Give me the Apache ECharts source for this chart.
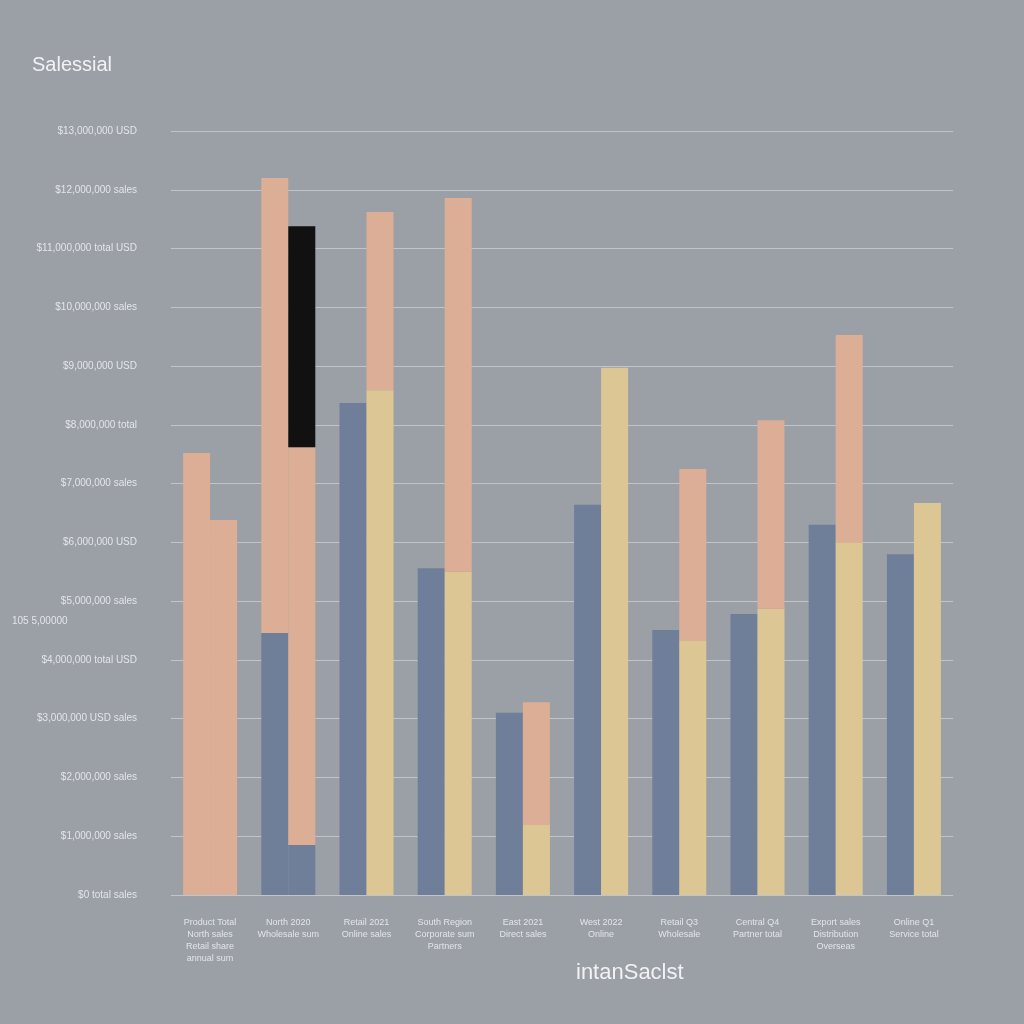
<!DOCTYPE html>
<html><head><meta charset="utf-8">
<script src="https://cdn.jsdelivr.net/npm/echarts@6/dist/echarts.min.js"></script>
<style>html,body{margin:0;padding:0;background:#9b9fa6;}#c{width:1024px;height:1024px;}</style>
</head><body><div id="c"></div>
<script>
const categories = [
  "Product Total\nNorth sales\nRetail share\nannual sum",
  "North 2020\nWholesale sum",
  "Retail 2021\nOnline sales",
  "South Region\nCorporate sum\nPartners",
  "East 2021\nDirect sales",
  "West 2022\nOnline",
  "Retail Q3\nWholesale",
  "Central Q4\nPartner total",
  "Export sales\nDistribution\nOverseas",
  "Online Q1\nService total"
];
const yTickLabels = ["$0 total sales","$1,000,000 sales","$2,000,000 sales","$3,000,000 USD sales","$4,000,000 total USD","$5,000,000 sales","$6,000,000 USD","$7,000,000 sales","$8,000,000 total","$9,000,000 USD","$10,000,000 sales","$11,000,000 total USD","$12,000,000 sales","$13,000,000 USD"];
const leftBlue   = [0,    4.46, 8.37, 5.56, 3.10, 6.64, 4.51, 4.78, 6.30, 5.80];
const leftSalmon = [7.52, 7.74, 0,    0,    0,    0,    0,    0,    0,    0];
const rightBlue  = [0,    0.85, 0,    0,    0,    0,    0,    0,    0,    0];
const rightYellow= [0,    0,    8.59, 5.50, 1.19, 8.97, 4.32, 4.87, 5.99, 6.67];
const rightSalmon= [6.38, 6.77, 3.03, 6.36, 2.09, 0,    2.93, 3.21, 3.54, 0];
const rightBlack = [0,    3.76, 0,    0,    0,    0,    0,    0,    0,    0];

const BLUE='#6f7f99', SALMON='#dcae96', YELLOW='#dcc794', BLACK='#111111';
const chart = echarts.init(document.getElementById('c'));
function bar(name, data, stack, color){
  return {name, type:'bar', stack, data, barWidth:27, itemStyle:{color}, emphasis:{disabled:true}};
}
chart.setOption({
  backgroundColor:'#9b9fa6',
  animation:false,
  title:{text:'Salessial', left:27, top:50, textStyle:{color:'#f1f2f4', fontSize:20, fontWeight:'normal', fontFamily:'Liberation Sans'}},
  grid:{left:171, right:71, top:131, bottom:129},
  xAxis:{type:'category', data:categories, axisLine:{show:false}, axisTick:{show:false},
    axisLabel:{color:'#e3e5e9', fontSize:9, lineHeight:12, margin:22, interval:0}},
  yAxis:{type:'value', min:0, max:13, interval:1, axisLine:{show:false}, axisTick:{show:false},
    axisLabel:{color:'#e3e5e9', fontSize:10, margin:34, formatter:(v)=>yTickLabels[Math.round(v)]||''},
    splitLine:{lineStyle:{color:'rgba(240,242,246,0.45)', width:1}}},
  series:[
    Object.assign(bar('Blue A', leftBlue, 'L', BLUE), {barGap:'0%'}),
    bar('Salmon A', leftSalmon, 'L', SALMON),
    bar('Blue B', rightBlue, 'R', BLUE),
    bar('Yellow', rightYellow, 'R', YELLOW),
    bar('Salmon B', rightSalmon, 'R', SALMON),
    bar('Black', rightBlack, 'R', BLACK)
  ],
  graphic:[
    {type:'text', left:12, top:616, style:{text:'105 5,00000', fill:'#e3e5e9', fontSize:10}},
    {type:'text', left:576, top:962, style:{text:'intanSaclst', fill:'#f1f2f4', fontSize:22, fontFamily:'Liberation Sans'}}
  ]
});
</script></body></html>
